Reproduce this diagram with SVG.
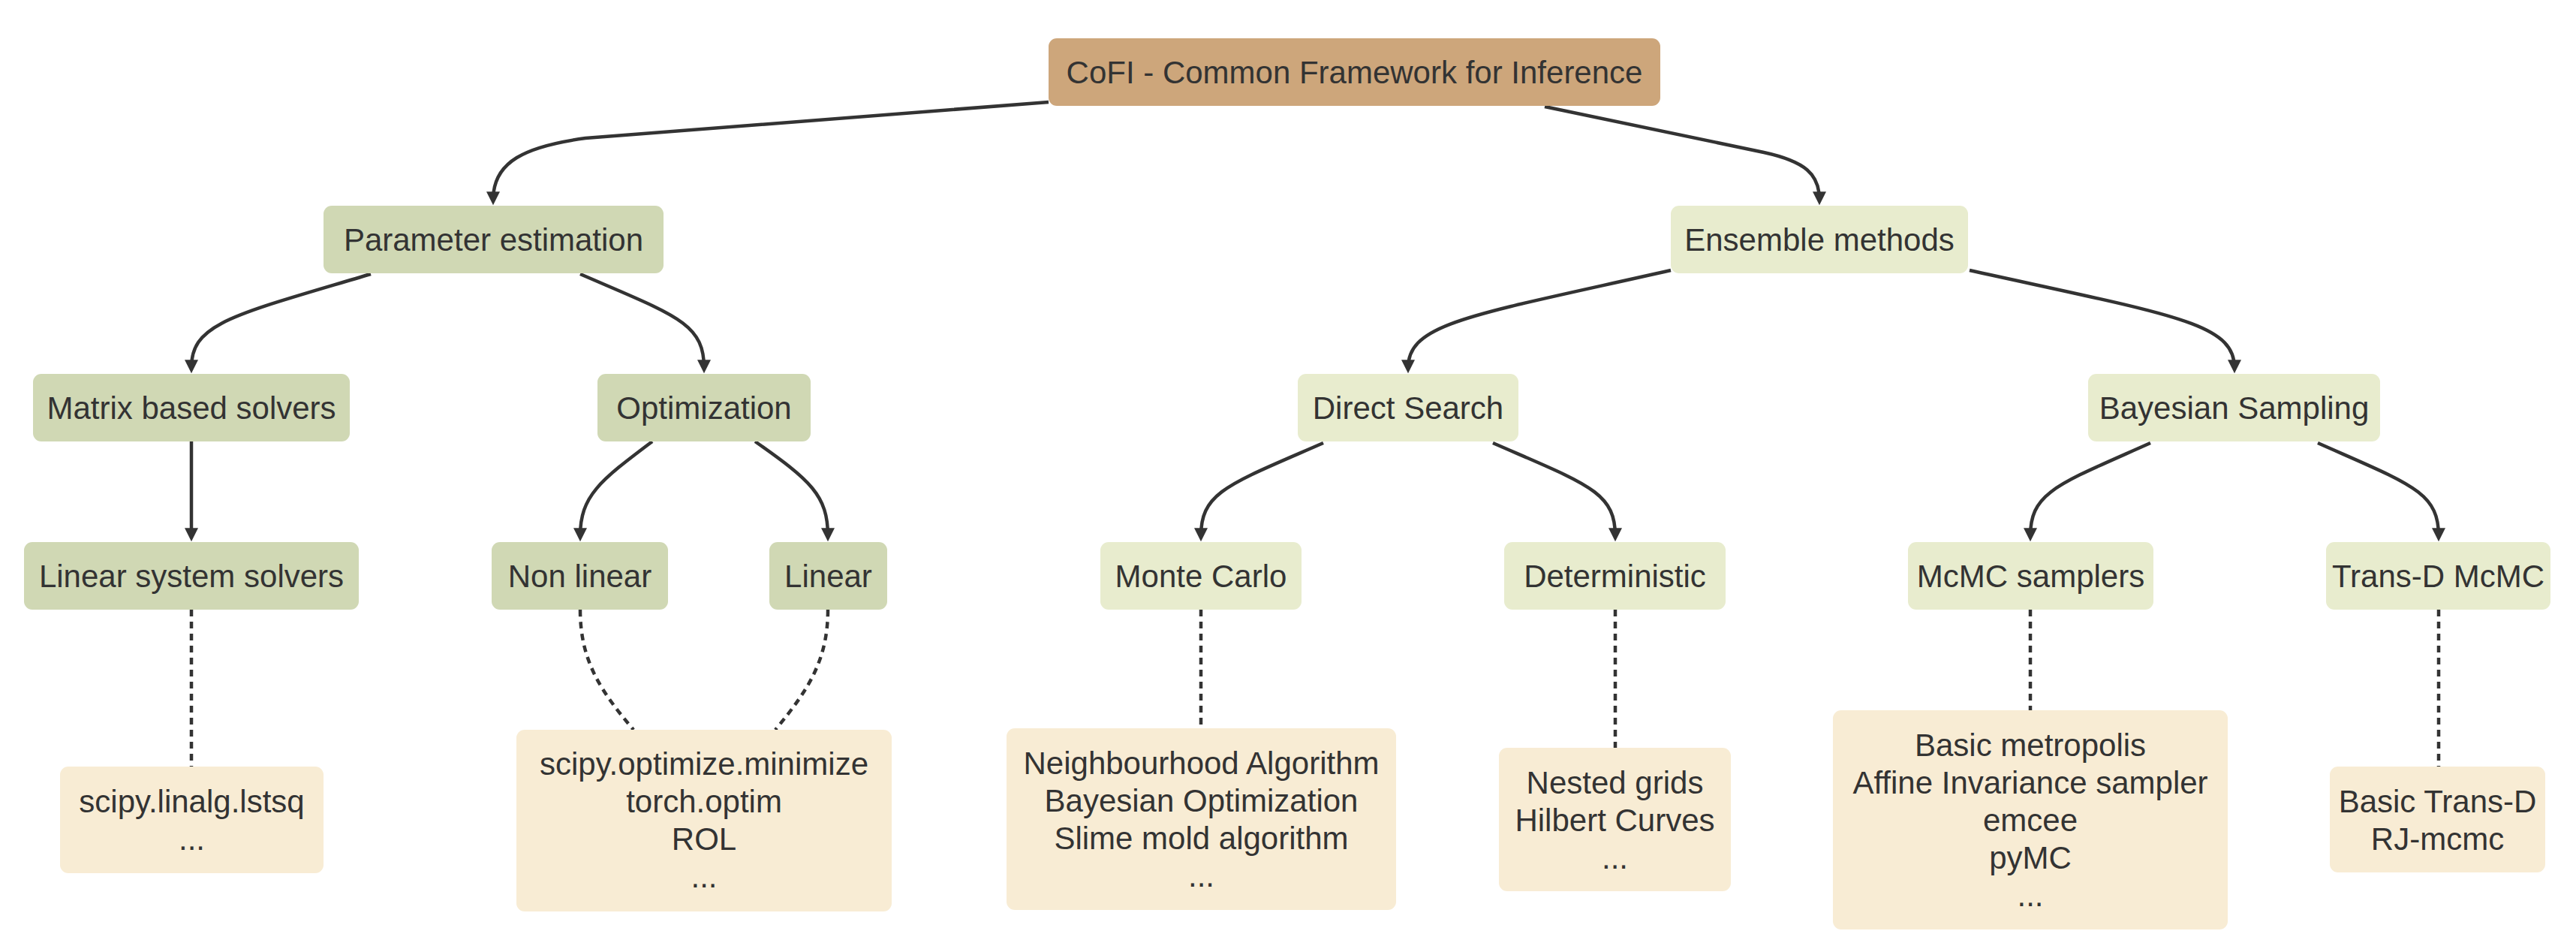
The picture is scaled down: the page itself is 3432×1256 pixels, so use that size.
<svg xmlns="http://www.w3.org/2000/svg" width="3432" height="1256" viewBox="0 0 3432 1256">
<style>
text{font-family:"Liberation Sans",Arial,sans-serif;font-size:42px;fill:#333;text-anchor:middle;dominant-baseline:central}
.root{fill:#cda67b}
.sage{fill:#d0d8b4}
.light{fill:#e8ecce}
.leaf{fill:#f8ecd4}
.e{fill:none;stroke:#333;stroke-width:4.5}
.a{marker-end:url(#arr)}
.d{fill:none;stroke:#333;stroke-width:4.5;stroke-dasharray:9 7}
</style>
<defs>
<marker id="arr" viewBox="0 0 10 10" markerWidth="20" markerHeight="18" refX="6" refY="5" orient="auto" markerUnits="userSpaceOnUse">
<path d="M0,0 L10,5 L0,10 z" fill="#333"/>
</marker>
</defs>
<rect width="3432" height="1256" fill="#fff"/>
<g id="connectors">
<path class="e a" d="M1397,136 L780,184 C700,195 657,215 657,266"/>
<path class="e a" d="M2058,142 L2350,203 C2405,215 2424,232 2424,266"/>
<path class="e a" d="M494,365 C310,420 255,430 255,490"/>
<path class="e a" d="M773,365 C900,420 938,430 938,490"/>
<path class="e a" d="M2226,360 C1960,420 1876,430 1876,490"/>
<path class="e a" d="M2624,360 C2896,420 2977,430 2977,490"/>
<path class="e a" d="M255,588 L255,714"/>
<path class="e a" d="M869,588 C800,640 773,660 773,714"/>
<path class="e a" d="M1006,588 C1080,640 1103,660 1103,714"/>
<path class="e a" d="M1763,590 C1637,645 1600,655 1600,714"/>
<path class="e a" d="M1989,590 C2115,645 2152,655 2152,714"/>
<path class="e a" d="M2865,590 C2742,645 2705,655 2705,714"/>
<path class="e a" d="M3088,590 C3212,645 3249,655 3249,714"/>
<path class="d" d="M255,812 L255,1021"/>
<path class="d" d="M773,812 C773,880 800,920 844,972"/>
<path class="d" d="M1103,812 C1103,880 1076,920 1033,972"/>
<path class="d" d="M1600,812 L1600,970"/>
<path class="d" d="M2152,812 L2152,996"/>
<path class="d" d="M2705,812 L2705,946"/>
<path class="d" d="M3249,812 L3249,1021"/>
</g>
<g id="cofi"><rect class="root" x="1397" y="51" width="815" height="90" rx="11"/><text x="1804.5" y="96">CoFI - Common Framework for Inference</text></g>
<g id="param"><rect class="sage" x="431" y="274" width="453" height="90" rx="11"/><text x="657.5" y="319">Parameter estimation</text></g>
<g id="ensemble"><rect class="light" x="2226" y="274" width="396" height="90" rx="11"/><text x="2424" y="319">Ensemble methods</text></g>
<g id="matrix"><rect class="sage" x="44" y="498" width="422" height="90" rx="11"/><text x="255" y="543">Matrix based solvers</text></g>
<g id="optimization"><rect class="sage" x="796" y="498" width="284" height="90" rx="11"/><text x="938" y="543">Optimization</text></g>
<g id="direct"><rect class="light" x="1729" y="498" width="294" height="90" rx="11"/><text x="1876" y="543">Direct Search</text></g>
<g id="bayesian"><rect class="light" x="2782" y="498" width="389" height="90" rx="11"/><text x="2976.5" y="543">Bayesian Sampling</text></g>
<g id="linsys"><rect class="sage" x="32" y="722" width="446" height="90" rx="11"/><text x="255" y="767">Linear system solvers</text></g>
<g id="nonlinear"><rect class="sage" x="655" y="722" width="235" height="90" rx="11"/><text x="772.5" y="767">Non linear</text></g>
<g id="linear"><rect class="sage" x="1025" y="722" width="157" height="90" rx="11"/><text x="1103.5" y="767">Linear</text></g>
<g id="montecarlo"><rect class="light" x="1466" y="722" width="268" height="90" rx="11"/><text x="1600" y="767">Monte Carlo</text></g>
<g id="deterministic"><rect class="light" x="2004" y="722" width="295" height="90" rx="11"/><text x="2151.5" y="767">Deterministic</text></g>
<g id="mcmc"><rect class="light" x="2542" y="722" width="327" height="90" rx="11"/><text x="2705.5" y="767">McMC samplers</text></g>
<g id="transd"><rect class="light" x="3099" y="722" width="299" height="90" rx="11"/><text x="3248.5" y="767">Trans-D McMC</text></g>
<g id="lstsq"><rect class="leaf" x="80" y="1021" width="351" height="142" rx="11"/><text x="255.5" y="1067">scipy.linalg.lstsq<tspan x="255.5" dy="50">...</tspan></text></g>
<g id="optlibs"><rect class="leaf" x="688" y="972" width="500" height="242" rx="11"/><text x="938" y="1017">scipy.optimize.minimize<tspan x="938" dy="50">torch.optim</tspan><tspan x="938" dy="50">ROL</tspan><tspan x="938" dy="50">...</tspan></text></g>
<g id="mclibs"><rect class="leaf" x="1341" y="970" width="519" height="242" rx="11"/><text x="1600.5" y="1016">Neighbourhood Algorithm<tspan x="1600.5" dy="50">Bayesian Optimization</tspan><tspan x="1600.5" dy="50">Slime mold algorithm</tspan><tspan x="1600.5" dy="50">...</tspan></text></g>
<g id="detlibs"><rect class="leaf" x="1997" y="996" width="309" height="191" rx="11"/><text x="2151.5" y="1042">Nested grids<tspan x="2151.5" dy="50">Hilbert Curves</tspan><tspan x="2151.5" dy="50">...</tspan></text></g>
<g id="mcmclibs"><rect class="leaf" x="2442" y="946" width="526" height="292" rx="11"/><text x="2705" y="992">Basic metropolis<tspan x="2705" dy="50">Affine Invariance sampler</tspan><tspan x="2705" dy="50">emcee</tspan><tspan x="2705" dy="50">pyMC</tspan><tspan x="2705" dy="50">...</tspan></text></g>
<g id="transdlibs"><rect class="leaf" x="3104" y="1021" width="287" height="141" rx="11"/><text x="3247.5" y="1067">Basic Trans-D<tspan x="3247.5" dy="50">RJ-mcmc</tspan></text></g>
</svg>
